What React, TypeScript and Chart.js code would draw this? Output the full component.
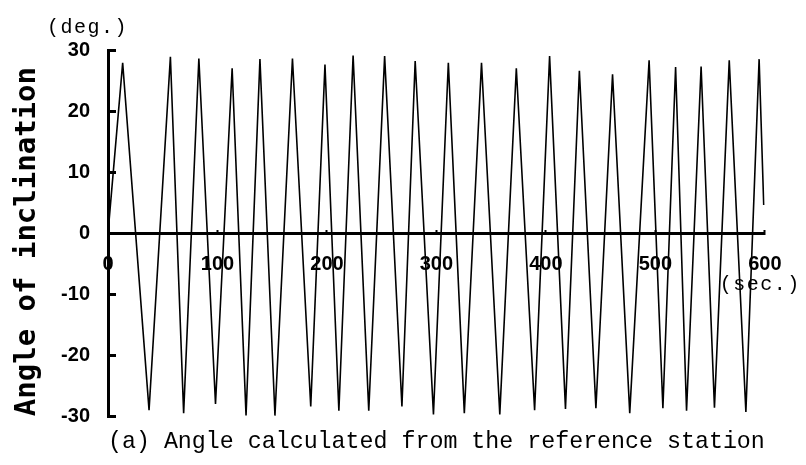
import React, { useEffect, useRef } from "react";
import { Chart, registerables } from "chart.js";

Chart.register(...registerables);

// Time (sec.) of each turning point of the record
const times: number[] = [
  0, 13.4, 37.5, 57.0, 69.1, 83.0, 98.2, 113.4, 126.1, 138.8, 152.5, 168.5,
  185.2, 198.2, 210.9, 223.9, 238.2, 252.7, 268.5, 280.6, 297.3, 310.9, 325.5,
  341.2, 357.9, 373.0, 389.7, 403.4, 417.9, 430.6, 445.7, 460.9, 476.6, 494.3,
  506.9, 518.5, 528.5, 541.8, 554.0, 567.5, 582.7, 594.8, 599.0,
];

// Angle of inclination (deg.) at each of those times
const angles: number[] = [
  0, 27.9, -29.0, 28.9, -29.5, 28.6, -28.0, 27.0, -29.9, 28.5, -29.9, 28.6,
  -28.4, 27.6, -29.1, 29.1, -29.1, 29.0, -28.4, 28.2, -29.7, 27.9, -29.5,
  27.9, -29.7, 27.0, -29.0, 29.0, -28.8, 26.6, -28.7, 26.0, -29.5, 28.3,
  -28.7, 27.2, -29.1, 27.3, -28.6, 28.3, -29.3, 28.5, 4.6,
];

const xMin = 0;
const xMax = 600;
const xStep = 100;
const yMin = -30;
const yMax = 30;
const yStep = 10;

const yTitle = "Angle of inclination";
const caption = "(a) Angle calculated from the reference station";
const yUnit = "(deg.)";
const xUnit = "(sec.)";

const tickFont = { family: "'Liberation Sans', Arial, sans-serif", size: 20, weight: "bold" as const };

const unitLabels = {
  id: "unitLabels",
  afterDraw(chart: any) {
    const ctx = chart.ctx as CanvasRenderingContext2D;
    const { left, top, right } = chart.chartArea;
    const y0 = chart.scales.y.getPixelForValue(0);
    ctx.save();
    ctx.font = "20px 'Liberation Mono', 'DejaVu Sans Mono', monospace";
    (ctx as any).letterSpacing = "1.5px";
    ctx.fillStyle = "#000";
    ctx.textBaseline = "middle";
    ctx.textAlign = "left";
    ctx.fillText(yUnit, left - 61, top - 22.5);
    ctx.fillText(xUnit, right - 45, y0 + 52);
    ctx.restore();
  },
};

export default function App() {
  const canvasRef = useRef<HTMLCanvasElement | null>(null);

  useEffect(() => {
    const canvas = canvasRef.current;
    if (!canvas) return;
    const points = times.map((t, i) => ({ x: t, y: angles[i] }));
    const chart = new Chart(canvas, {
      type: "line",
      data: {
        datasets: [
          {
            data: points,
            borderColor: "#000",
            borderWidth: 1.6,
            pointRadius: 0,
            tension: 0,
            fill: false,
          },
        ],
      },
      options: {
        animation: false,
        responsive: false,
        devicePixelRatio: 1,
        layout: { padding: { top: 50, right: 38, left: 0, bottom: 0 } },
        plugins: {
          legend: { display: false },
          tooltip: { enabled: false },
          title: {
            display: true,
            text: caption,
            position: "bottom",
            align: "start",
            fullSize: false,
            color: "#000",
            font: { family: "'Liberation Mono', 'DejaVu Sans Mono', monospace", size: 24, weight: "normal", lineHeight: 1.2 },
            padding: { top: 11, bottom: 9 },
          },
        },
        scales: {
          x: {
            type: "linear",
            position: { y: 0 } as any,
            min: xMin,
            max: xMax,
            ticks: {
              stepSize: xStep,
              autoSkip: false,
              maxRotation: 0,
              padding: 24.5,
              color: "#000",
              font: tickFont,
            },
            grid: {
              drawOnChartArea: false,
              drawTicks: true,
              tickLength: -5,
              tickWidth: 2,
              tickColor: "#000",
            },
            border: { display: true, width: 3, color: "#000" },
          },
          y: {
            type: "linear",
            min: yMin,
            max: yMax,
            ticks: {
              stepSize: yStep,
              padding: 26,
              color: "#000",
              font: tickFont,
            },
            grid: {
              drawOnChartArea: false,
              drawTicks: true,
              tickLength: -8,
              tickWidth: 3,
              tickColor: "#000",
            },
            border: { display: true, width: 3, color: "#000" },
            title: {
              display: true,
              text: yTitle,
              align: "start",
              color: "#000",
              font: { family: "'DejaVu Sans Mono', 'Liberation Mono', monospace", size: 29, weight: "bold", lineHeight: 1.2 },
              padding: { top: 9.6, bottom: 0 },
            },
            afterFit(scale: any) {
              scale.width = 108;
            },
          },
        },
      },
      plugins: [unitLabels],
    } as any);
    return () => chart.destroy();
  }, []);

  return (
    <div style={{ position: "fixed", left: 0, top: 0, width: 806, height: 465, background: "#fff" }}>
      <canvas ref={canvasRef} width={806} height={465} style={{ display: "block", width: 806, height: 465 }} />
    </div>
  );
}
